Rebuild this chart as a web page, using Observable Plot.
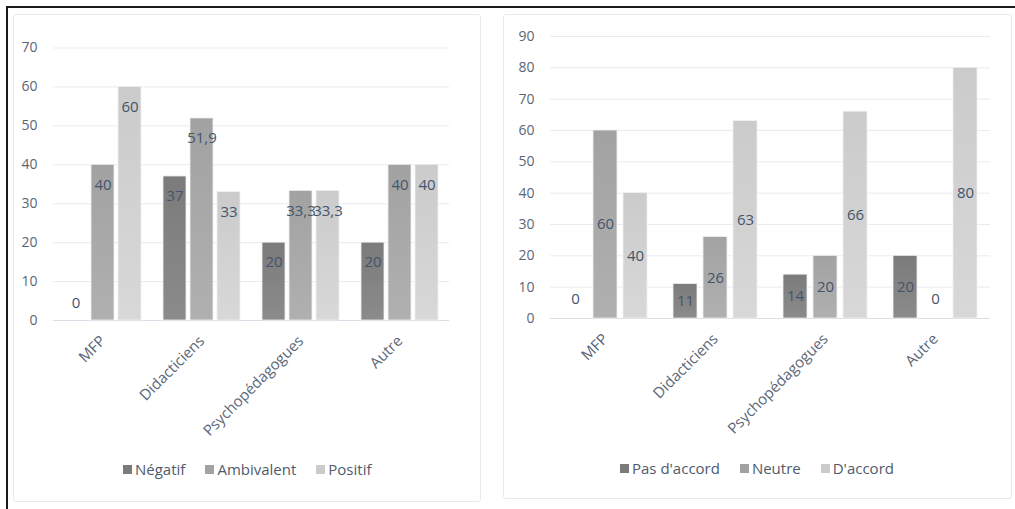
<!DOCTYPE html>
<html><head><meta charset="utf-8">
<script src="https://cdn.jsdelivr.net/npm/d3@7"></script>
<script src="https://cdn.jsdelivr.net/npm/@observablehq/plot@0.6"></script>
<style>
body{margin:0;background:#fff;width:1015px;height:509px;overflow:hidden;position:relative;font-family:"Open Sans",sans-serif}
#frame{position:absolute;left:6px;top:6px;width:1020px;height:520px;border-left:2px solid #1a1a1a;border-top:2px solid #1a1a1a}
.panel{position:absolute;border:1px solid #e9eaee;border-radius:3px;box-sizing:border-box}
#p1{left:13px;top:14px;width:468px;height:488px}
#p2{left:503px;top:14px;width:509px;height:485px}
.chart{position:absolute}
.legend{position:absolute;display:flex;align-items:center;font-size:15px;color:#4f5b6d;white-space:nowrap}
.legend .item{display:flex;align-items:center;margin-right:20px}
.legend .sw{width:9px;height:9px;margin-right:3px}
</style>
</head><body>
<div id="frame"></div>
<div class="panel" id="p1"></div>
<div class="panel" id="p2"></div>
<div class="chart" id="c1" style="left:14px;top:14px"></div>
<div class="chart" id="c2" style="left:503px;top:14px"></div>
<div class="legend" id="l1" style="left:123px;top:459px"></div>
<div class="legend" id="l2" style="left:620px;top:458px"></div>
<script>
// ---- data ----
const categories = ["MFP", "Didacticiens", "Psychopédagogues", "Autre"];

const leftSeries = ["Négatif", "Ambivalent", "Positif"];
const negatif    = [0, 37, 20, 20];
const ambivalent = [40, 51.9, 33.3, 40];
const positif    = [60, 33, 33.3, 40];
const leftTicks  = [0, 10, 20, 30, 40, 50, 60, 70];

const rightSeries = ["Pas d'accord", "Neutre", "D'accord"];
const pasDAccord  = [0, 11, 14, 20];
const neutre      = [60, 26, 20, 0];
const dAccord     = [40, 63, 66, 80];
const rightTicks  = [0, 10, 20, 30, 40, 50, 60, 70, 80, 90];

const seriesColors = ["#7b7b7b", "#a2a2a2", "#cbcbcb"];
const gradBottom   = ["#8b8b8b", "#b0b0b0", "#d8d8d8"];

function table(series, values) {
  const rows = [];
  series.forEach((s, i) => categories.forEach((c, j) => rows.push({cat: c, series: s, value: values[i][j]})));
  return rows;
}
const fmt = v => String(v).replace(".", ",");

function chart(prefix, series, values, ticks, cfg) {
  const data = table(series, values);
  const nonZero = data.filter(d => d.value !== 0);
  const zero = data.filter(d => d.value === 0);
  const gradIds = series.map((s, i) => `url(#${prefix}g${i})`);
  const labelY = cfg.center ? (d => d.value / 2) : (d => d.value);
  const svg = Plot.plot({
    width: cfg.width, height: cfg.height,
    marginLeft: cfg.ml, marginRight: cfg.mr, marginTop: cfg.mt, marginBottom: cfg.mb,
    style: {fontFamily: "'Open Sans', sans-serif", fontSize: "14px", color: "#5a6678", background: "transparent", overflow: "visible"},
    fx: {domain: categories, padding: 0, label: null},
    x: {domain: series, paddingInner: cfg.pi, paddingOuter: cfg.po, axis: null},
    y: {domain: [0, ticks[ticks.length - 1]], label: null},
    color: {domain: series, range: gradIds},
    marks: [
      Plot.gridY(ticks.slice(1), {stroke: "#e8ebf1", strokeOpacity: 1, strokeWidth: 1}),
      Plot.ruleY([0], {stroke: "#d9dde6", strokeWidth: 1}),
      Plot.axisY(ticks, {tickSize: 0, tickPadding: 16, label: null, fill: "#5a6678", fontSize: 14}),
      Plot.axisFx({anchor: "bottom", tickRotate: -45, tickSize: 0, tickPadding: cfg.fxPad, label: null, fill: "#5a6678", fontSize: 15}),
      Plot.barY(data, {fx: "cat", x: "series", y: "value", fill: "series", stroke: "#f0f0f0", strokeWidth: 0.8}),
      Plot.text(nonZero, {fx: "cat", x: "series", y: labelY, text: d => fmt(d.value), dy: cfg.center ? 0 : 20, fill: "#44546a", fontSize: 15}),
      Plot.text(zero, {fx: "cat", x: "series", y: 0, text: d => fmt(d.value), dy: cfg.zeroDy, fill: "#44546a", fontSize: 15})
    ]
  });
  const defs = d3.select(svg).insert("defs", ":first-child");
  series.forEach((s, i) => {
    const g = defs.append("linearGradient").attr("id", `${prefix}g${i}`).attr("x1", 0).attr("y1", 0).attr("x2", 0).attr("y2", 1);
    g.append("stop").attr("offset", "0%").attr("stop-color", seriesColors[i]);
    g.append("stop").attr("offset", "100%").attr("stop-color", gradBottom[i]);
  });
  return svg;
}

function legend(id, series) {
  const el = document.getElementById(id);
  series.forEach((s, i) => {
    const it = document.createElement("div"); it.className = "item";
    const sw = document.createElement("span"); sw.className = "sw"; sw.style.background = seriesColors[i];
    const tx = document.createElement("span"); tx.textContent = s;
    it.appendChild(sw); it.appendChild(tx); el.appendChild(it);
  });
}

document.getElementById("c1").appendChild(chart("L", leftSeries, [negatif, ambivalent, positif], leftTicks,
  {width: 466, height: 440, ml: 37, mr: 30, mt: 33.5, mb: 134, pi: 0.16, po: 0.4, center: false, zeroDy: -17, fxPad: 18}));
document.getElementById("c2").appendChild(chart("R", rightSeries, [pasDAccord, neutre, dAccord], rightTicks,
  {width: 508, height: 440, ml: 46, mr: 20, mt: 22, mb: 136, pi: 0.19, po: 0.377, center: true, zeroDy: -19, fxPad: 18}));
legend("l1", leftSeries);
legend("l2", rightSeries);
</script>
</body></html>
